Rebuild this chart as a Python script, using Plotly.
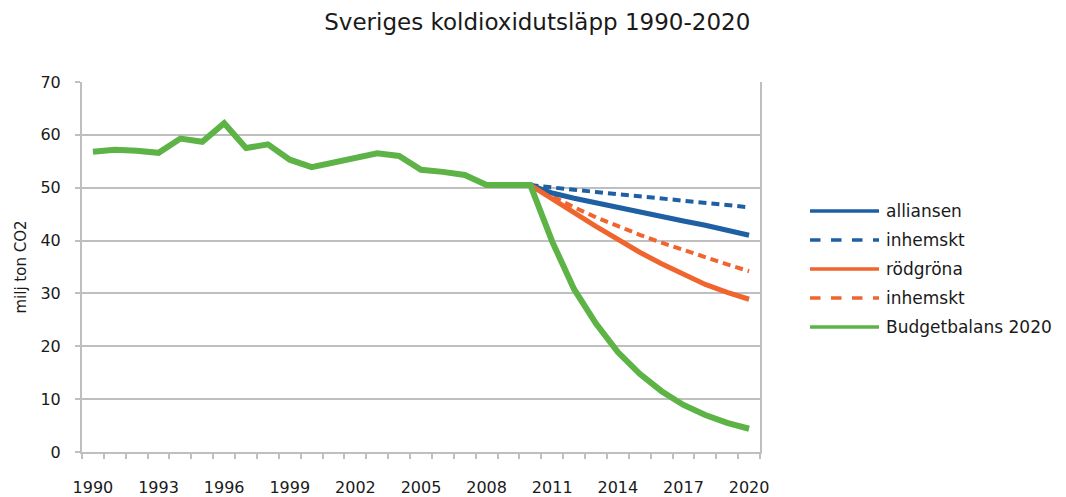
import plotly.graph_objects as go

years = list(range(1990, 2021))
proj_years = list(range(2010, 2021))

historic = [56.8, 57.2, 57.0, 56.6, 59.3, 58.7, 62.2, 57.5, 58.2, 55.3, 53.9,
            54.8, 55.8, 56.5, 56.0, 53.4, 53.0, 52.4, 50.5, 50.5, 50.5]
budget_future = [39.8, 30.8, 24.3, 18.9, 14.8, 11.5, 8.9, 7.0, 5.5, 4.4]
budget = historic + budget_future

alliansen = [50.5, 49.0, 48.0, 47.1, 46.2, 45.3, 44.5, 43.7, 42.9, 42.0, 41.0]
alliansen_inh = [50.5, 50.0, 49.6, 49.2, 48.8, 48.4, 48.0, 47.6, 47.2, 46.8, 46.3]
rodgrona = [50.5, 48.0, 45.3, 42.7, 40.2, 37.8, 35.6, 33.6, 31.7, 30.2, 28.9]
rodgrona_inh = [50.5, 48.3, 46.3, 44.4, 42.7, 41.1, 39.6, 38.2, 36.8, 35.5, 34.2]

names = ["alliansen", "inhemskt", "rödgröna", "inhemskt", "Budgetbalans 2020"]
tick_years = list(range(1990, 2021, 3))

BLUE = "#1F5FA3"
ORANGE = "#F0652E"
GREEN = "#5DB346"
GRID = "#BFBFBF"
FONT = "DejaVu Sans"
TXT = "#1a1a1a"

styles = [
    dict(color=BLUE, width=5, dash="solid"),
    dict(color=BLUE, width=4, dash="8px,5px"),
    dict(color=ORANGE, width=5, dash="solid"),
    dict(color=ORANGE, width=4, dash="8px,5px"),
    dict(color=GREEN, width=6, dash="solid"),
]

fig = go.Figure()
series = [(proj_years, alliansen_inh, 1), (proj_years, rodgrona_inh, 3),
          (proj_years, alliansen, 0), (proj_years, rodgrona, 2),
          (years, budget, 4)]
for xs, ys, i in series:
    fig.add_trace(go.Scatter(x=xs, y=ys, mode="lines", name=names[i],
                             line=dict(**styles[i]), showlegend=False,
                             hoverinfo="x+y+name"))

# custom legend (long line symbols like the original)
L, R, T, B = 82, 760, 82, 452
W, H = R - L, B - T
def px_x(p):
    return (p - L) / W
def px_y(p):
    return (B - p) / H

leg_y = [211, 240, 269, 298, 327]
for i, nm in enumerate(names):
    st = styles[i]
    fig.add_shape(type="line", xref="paper", yref="paper",
                  x0=px_x(810), x1=px_x(879), y0=px_y(leg_y[i]), y1=px_y(leg_y[i]),
                  line=dict(color=st["color"], width=3.5,
                            dash="dash" if st["dash"] != "solid" else "solid"))
    fig.add_annotation(xref="paper", yref="paper", x=px_x(884), y=px_y(leg_y[i]),
                       text=nm, showarrow=False, xanchor="left", yanchor="middle",
                       font=dict(family=FONT, size=17, color=TXT))

fig.update_layout(
    width=1066, height=497,
    margin=dict(l=L, r=1066 - R, t=T, b=497 - B, autoexpand=False),
    paper_bgcolor="white", plot_bgcolor="white",
    font=dict(family=FONT, size=16, color=TXT),
    title=dict(text="Sveriges koldioxidutsläpp 1990-2020", xref="container",
               x=0.504, xanchor="center", yref="container", y=1 - 22 / 497,
               yanchor="middle", font=dict(family=FONT, size=23, color=TXT)),
    showlegend=False,
)
fig.update_xaxes(range=[1989.5, 2020.5], tickvals=tick_years,
                 ticktext=[str(t) for t in tick_years], ticks="",
                 showgrid=False, zeroline=False, showline=True,
                 linecolor=GRID, linewidth=2, ticklabelstandoff=20,
                 tickfont=dict(size=16),
                 minor=dict(tick0=1989.5, dtick=1, ticks="outside", ticklen=5,
                            tickcolor=GRID, tickwidth=1.5, showgrid=False))
fig.update_yaxes(range=[0, 70], dtick=10, ticks="outside", ticklen=5,
                 tickcolor=GRID, tickwidth=2, showgrid=True, gridcolor=GRID,
                 gridwidth=2, zeroline=False, showline=True, linecolor=GRID,
                 linewidth=2, mirror=True, ticklabelstandoff=11,
                 tickfont=dict(size=16),
                 title=dict(text="milj ton CO2", standoff=10,
                            font=dict(size=15)))

fig.write_html("out.html", config={"displayModeBar": False},
               post_script="document.body.style.margin='0';document.body.style.padding='0';")
